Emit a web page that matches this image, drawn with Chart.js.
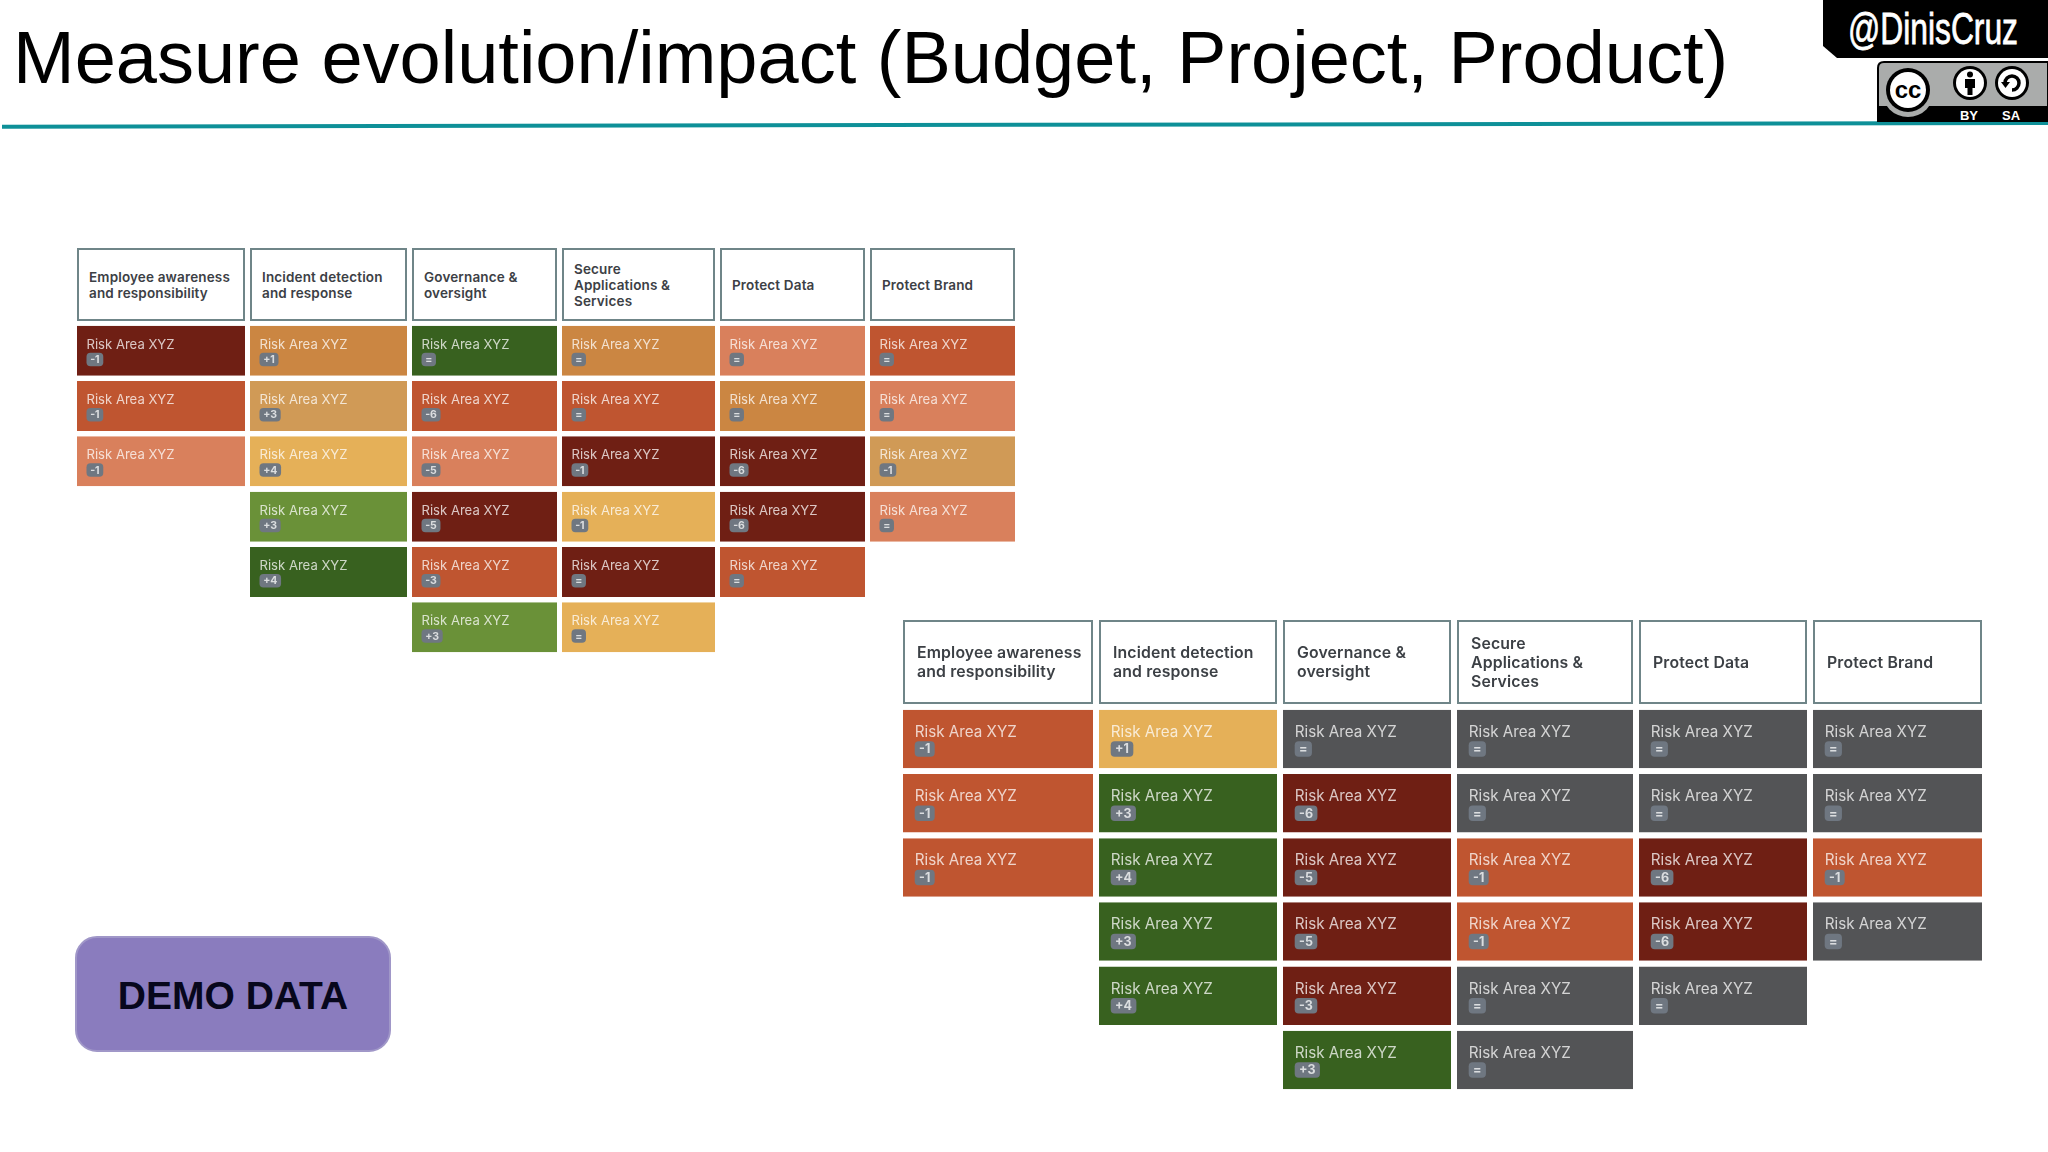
<!DOCTYPE html>
<html>
<head>
<meta charset="utf-8">
<title>Measure evolution/impact</title>
<script src="https://cdn.jsdelivr.net/npm/chart.js@4"></script>
<style>
    html, body { margin: 0; padding: 0; background: #fff; }
    body { position: relative; width: 2048px; height: 1152px; overflow: hidden; }
    #title { position: absolute; left: 13px; top: 15px; font: 74px "Liberation Sans", Arial, sans-serif; color: #000; white-space: nowrap; }
    #rule { position: absolute; left: 0; top: 0; }
    canvas { position: absolute; }
    .head { position: absolute; display: flex; }
    .head div { box-sizing: border-box; border: 2.5px solid #6f8588; display: flex; align-items: center; font-family: Inter, sans-serif; font-weight: 600; letter-spacing: 0.15px; color: #3c4045; background: #fff; }
    #demo { position: absolute; left: 75px; top: 936px; width: 316px; height: 116px; box-sizing: border-box; border: 2px solid #a097c8; border-radius: 22px; background: #8a7cbe; color: #07071c; font: bold 39px "Liberation Sans", Arial, sans-serif; display: flex; align-items: center; justify-content: center; padding-top: 4px; }
</style>
</head>
<body>
<div id="title">Measure evolution/impact (Budget, Project, Product)</div>
<svg id="rule" width="2048" height="130" viewBox="0 0 2048 130">
    <line x1="2" y1="126.7" x2="2048" y2="123" stroke="#0e9098" stroke-width="4"/>
    <path d="M1823 0H2048V58H1837L1823 46Z" fill="#000"/>
    <text x="1848" y="44" font-family="Liberation Sans Narrow, Liberation Sans" font-size="44" fill="#fff" stroke="#fff" stroke-width="0.8" textLength="170" lengthAdjust="spacingAndGlyphs">@DinisCruz</text>
    <path d="M1878 121V68Q1878 62 1884 62H2048V121Z" fill="#aaacab" stroke="#000" stroke-width="2"/>
    <rect x="1878" y="106" width="170" height="16" fill="#000"/>
    <circle cx="1908" cy="91" r="26" fill="#aaacab"/>
    <circle cx="1908" cy="90" r="22" fill="#000"/>
    <circle cx="1908" cy="90" r="18" fill="#fff"/>
    <text x="1908" y="98" text-anchor="middle" font-family="Liberation Sans" font-weight="bold" font-size="24" fill="#000">cc</text>
    <circle cx="1970" cy="83" r="17" fill="#000"/>
    <circle cx="1970" cy="83" r="14" fill="#fff"/>
    <circle cx="1970" cy="74.5" r="3" fill="#000"/>
    <path d="M1965 79H1975V88H1972.5V95H1967.5V88H1965Z" fill="#000"/>
    <circle cx="2012" cy="83" r="17" fill="#000"/>
    <circle cx="2012" cy="83" r="14" fill="#fff"/>
    <path d="M2005 83A7 7 0 1 1 2012 90" fill="none" stroke="#000" stroke-width="3.5"/>
    <path d="M2001 82H2010L2005.5 88Z" fill="#000"/>
    <text x="1969" y="120" text-anchor="middle" font-family="Liberation Sans" font-weight="bold" font-size="13" fill="#fff">BY</text>
    <text x="2011" y="120" text-anchor="middle" font-family="Liberation Sans" font-weight="bold" font-size="13" fill="#fff">SA</text>
</svg>

<div class="head" id="headLeft" style="left:77px;top:248px;height:73px"></div>
<canvas id="gridLeft" width="943" height="332" style="left:77px;top:323px"></canvas>

<div class="head" id="headRight" style="left:903px;top:620px;height:84px"></div>
<canvas id="gridRight" width="1085" height="385" style="left:903px;top:707px"></canvas>

<div id="demo">DEMO DATA</div>

<script>
    // Column titles, each line of the header box
    const columnTitles = [
        ["Employee awareness", "and responsibility"],
        ["Incident detection", "and response"],
        ["Governance &", "oversight"],
        ["Secure", "Applications &", "Services"],
        ["Protect Data"],
        ["Protect Brand"]
    ];
    const rowLabels = ["1", "2", "3", "4", "5", "6"];
    const cellLabel = "Risk Area XYZ";

    // Status colours
    const statusColours = {
        crit: "#6f1f14",
        high: "#bf5530",
        med: "#d9805c",
        warn: "#cb8642",
        tan: "#d09a56",
        amber: "#e5b058",
        fair: "#6a9138",
        good: "#38611f",
        none: "#535456"
    };

    // Before: change labels and status per column, top to bottom
    const beforeChange = [
        ["-1", "-1", "-1"],
        ["+1", "+3", "+4", "+3", "+4"],
        ["=", "-6", "-5", "-5", "-3", "+3"],
        ["=", "=", "-1", "-1", "=", "="],
        ["=", "=", "-6", "-6", "="],
        ["=", "=", "-1", "="]
    ];
    const beforeStatus = [
        ["crit", "high", "med"],
        ["warn", "tan", "amber", "fair", "good"],
        ["good", "high", "med", "crit", "high", "fair"],
        ["warn", "high", "crit", "amber", "crit", "amber"],
        ["med", "warn", "crit", "crit", "high"],
        ["high", "med", "tan", "med"]
    ];

    // After
    const afterChange = [
        ["-1", "-1", "-1"],
        ["+1", "+3", "+4", "+3", "+4"],
        ["=", "-6", "-5", "-5", "-3", "+3"],
        ["=", "=", "-1", "-1", "=", "="],
        ["=", "=", "-6", "-6", "="],
        ["=", "=", "-1", "="]
    ];
    const afterStatus = [
        ["high", "high", "high"],
        ["amber", "good", "good", "good", "good"],
        ["none", "crit", "crit", "crit", "crit", "good"],
        ["none", "none", "high", "high", "none", "none"],
        ["none", "none", "crit", "crit", "none"],
        ["none", "none", "high", "none"]
    ];

    // Layout of the two grids, column widths include the gap
    const leftLayout = {
        widths: [173, 162, 150, 158, 150, 150], gap: 5, rowFill: 0.904,
        font: 13.1, textTop: 19, badgeTop: 27, badgeHeight: 13.5, badgeFont: 10.5, pad: 9.5,
        headFont: 13.5, headLine: 16, headPad: 10
    };
    const rightLayout = {
        widths: [196, 184, 174, 182, 174, 175], gap: 6, rowFill: 0.911,
        font: 15.2, textTop: 22.5, badgeTop: 31.5, badgeHeight: 15.5, badgeFont: 12.5, pad: 11.7,
        headFont: 15.8, headLine: 19, headPad: 12
    };

    // Draw the label and change badge on top of each cell
    const cellText = {
        id: "cellText",
        afterDatasetsDraw(chart, args, opts) {
            const ctx = chart.ctx;
            chart.data.datasets.forEach((ds, c) => {
                chart.getDatasetMeta(c).data.forEach((bar, r) => {
                    const change = ds.changes[r];
                    if (!change) return;
                    const { base, y, height } = bar.getProps(["base", "y", "height"], true);
                    const left = base + opts.pad;
                    const top = y - height / 2;

                    ctx.save();
                    ctx.font = `${opts.font}px Inter, sans-serif`;
                    ctx.textBaseline = "middle";
                    ctx.fillStyle = "rgba(255,255,255,0.75)";
                    ctx.fillText(cellLabel, left, top + opts.textTop);

                    ctx.font = `bold ${opts.badgeFont}px Inter, sans-serif`;
                    const w = ctx.measureText(change).width + opts.badgeFont * 0.7;
                    ctx.fillStyle = "#6f7781";
                    ctx.beginPath();
                    ctx.roundRect(left, top + opts.badgeTop, w, opts.badgeHeight, 4);
                    ctx.fill();
                    ctx.fillStyle = "rgba(255,255,255,0.75)";
                    ctx.textAlign = "center";
                    ctx.fillText(change, left + w / 2, top + opts.badgeTop + opts.badgeHeight / 2 + 0.5);
                    ctx.restore();
                });
            });
        }
    };

    function buildHeaders(containerId, layout) {
        const box = document.getElementById(containerId);
        columnTitles.forEach((lines, i) => {
            const cell = document.createElement("div");
            cell.style.width = (layout.widths[i] - layout.gap) + "px";
            cell.style.marginRight = layout.gap + "px";
            cell.style.padding = `0 0 0 ${layout.headPad}px`;
            cell.style.fontSize = layout.headFont + "px";
            cell.style.lineHeight = layout.headLine + "px";
            cell.innerHTML = "<span>" + lines.join("<br>").replace(/&(?!amp)/g, "&amp;") + "</span>";
            box.appendChild(cell);
        });
    }

    function buildGrid(canvasId, changes, status, layout) {
        const total = layout.widths.reduce((sum, w) => sum + w, 0);
        const datasets = layout.widths.map((w, c) => ({
            label: columnTitles[c].join(" "),
            data: rowLabels.map(() => w),
            changes: changes[c],
            backgroundColor: rowLabels.map((_, r) => status[c][r] ? statusColours[status[c][r]] : "transparent"),
            borderColor: "#fff",
            borderWidth: { right: layout.gap },
            borderSkipped: false
        }));

        new Chart(document.getElementById(canvasId), {
            type: "bar",
            data: { labels: rowLabels, datasets: datasets },
            options: {
                indexAxis: "y",
                responsive: false,
                animation: false,
                categoryPercentage: 1,
                barPercentage: layout.rowFill,
                layout: { padding: 0 },
                scales: {
                    x: { display: false, stacked: true, min: 0, max: total },
                    y: { display: false, stacked: true }
                },
                plugins: {
                    legend: { display: false },
                    tooltip: { enabled: false },
                    cellText: layout
                }
            },
            plugins: [cellText]
        });
    }

    buildHeaders("headLeft", leftLayout);
    buildHeaders("headRight", rightLayout);
    buildGrid("gridLeft", beforeChange, beforeStatus, leftLayout);
    buildGrid("gridRight", afterChange, afterStatus, rightLayout);
</script>
</body>
</html>
